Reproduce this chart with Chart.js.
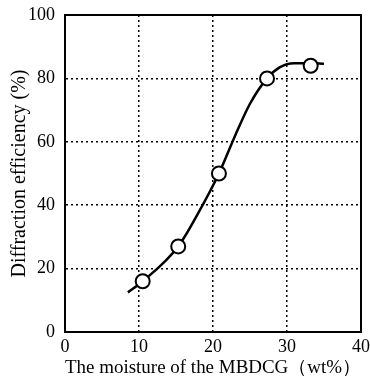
<!DOCTYPE html>
<html>
<head>
<meta charset="utf-8">
<script src="https://cdn.jsdelivr.net/npm/chart.js@4.4.0/dist/chart.umd.min.js"></script>
<style>
  html, body { margin: 0; padding: 0; background: #fff; }
  #wrap { width: 370px; height: 376px; }
</style>
</head>
<body>
<div id="wrap"><canvas id="chart"></canvas></div>
<script>
// Points mesurés
const moisture = [10.5, 15.3, 20.8, 27.3, 33.2];
const efficiency = [16, 27, 50, 80, 84];

// Courbe tracée à la main à travers les points
const curveX = [8.5, 10.5, 15.3, 18, 20.8, 23, 25, 27.3, 29, 31, 33.2, 35];
const curveY = [12.5, 16, 27, 37.5, 50, 62, 72, 80, 83.5, 84.8, 84.8, 84.6];

const xTicks = [0, 10, 20, 30, 40];
const yTicks = [0, 20, 40, 60, 80, 100];

const serif = '"Liberation Serif", "DejaVu Serif", serif';

// Cadre complet autour de la zone du graphique
const frame = {
    id: 'frame',
    afterDraw(chart) {
        const { ctx, chartArea: a } = chart;
        ctx.save();
        ctx.strokeStyle = '#000';
        ctx.lineWidth = 2;
        ctx.strokeRect(a.left, a.top, a.right - a.left, a.bottom - a.top);
        ctx.restore();
    }
};

new Chart(document.getElementById('chart'), {
    type: 'scatter',
    data: {
        datasets: [
            {
                data: moisture.map((x, i) => ({ x, y: efficiency[i] })),
                showLine: false,
                pointRadius: 7,
                pointBorderWidth: 2,
                pointBackgroundColor: '#fff',
                pointBorderColor: '#000',
                order: 0
            },
            {
                data: curveX.map((x, i) => ({ x, y: curveY[i] })),
                showLine: true,
                borderColor: '#000',
                borderWidth: 2.5,
                pointRadius: 0,
                tension: 0.4,
                cubicInterpolationMode: 'monotone',
                order: 1
            }
        ]
    },
    options: {
        responsive: true,
        maintainAspectRatio: false,
        animation: false,
        layout: { padding: { top: 15, right: 5, left: 0, bottom: 0 } },
        plugins: { legend: { display: false }, tooltip: { enabled: false } },
        scales: {
            x: {
                type: 'linear',
                min: 0,
                max: 40,
                afterBuildTicks: (s) => { s.ticks = xTicks.map(v => ({ value: v })); },
                afterFit: (s) => { s.height = 44; s.paddingLeft = 0; s.paddingRight = 0; },
                grid: { color: '#000', lineWidth: 1.5, drawTicks: false },
                border: { color: '#000', width: 2, dash: [2, 3] },
                ticks: { color: '#000', padding: 4, font: { family: serif, size: 18 } },
                title: {
                    display: true,
                    text: 'The moisture of the MBDCG（wt%）',
                    color: '#000',
                    padding: { top: 0, bottom: -3 },
                    font: { family: serif, size: 19 }
                }
            },
            y: {
                type: 'linear',
                min: 0,
                max: 100,
                afterBuildTicks: (s) => { s.ticks = yTicks.map(v => ({ value: v })); },
                afterFit: (s) => { s.width = 65; s.paddingTop = 0; s.paddingBottom = 0; },
                grid: { color: '#000', lineWidth: 1.5, drawTicks: false },
                border: { color: '#000', width: 2, dash: [2, 3] },
                ticks: { color: '#000', padding: 10, font: { family: serif, size: 18 } },
                title: {
                    display: true,
                    text: 'Diffraction efficiency (%)',
                    color: '#000',
                    padding: { top: 8, bottom: 0 },
                    font: { family: serif, size: 20 }
                }
            }
        }
    },
    plugins: [frame]
});
</script>
</body>
</html>
